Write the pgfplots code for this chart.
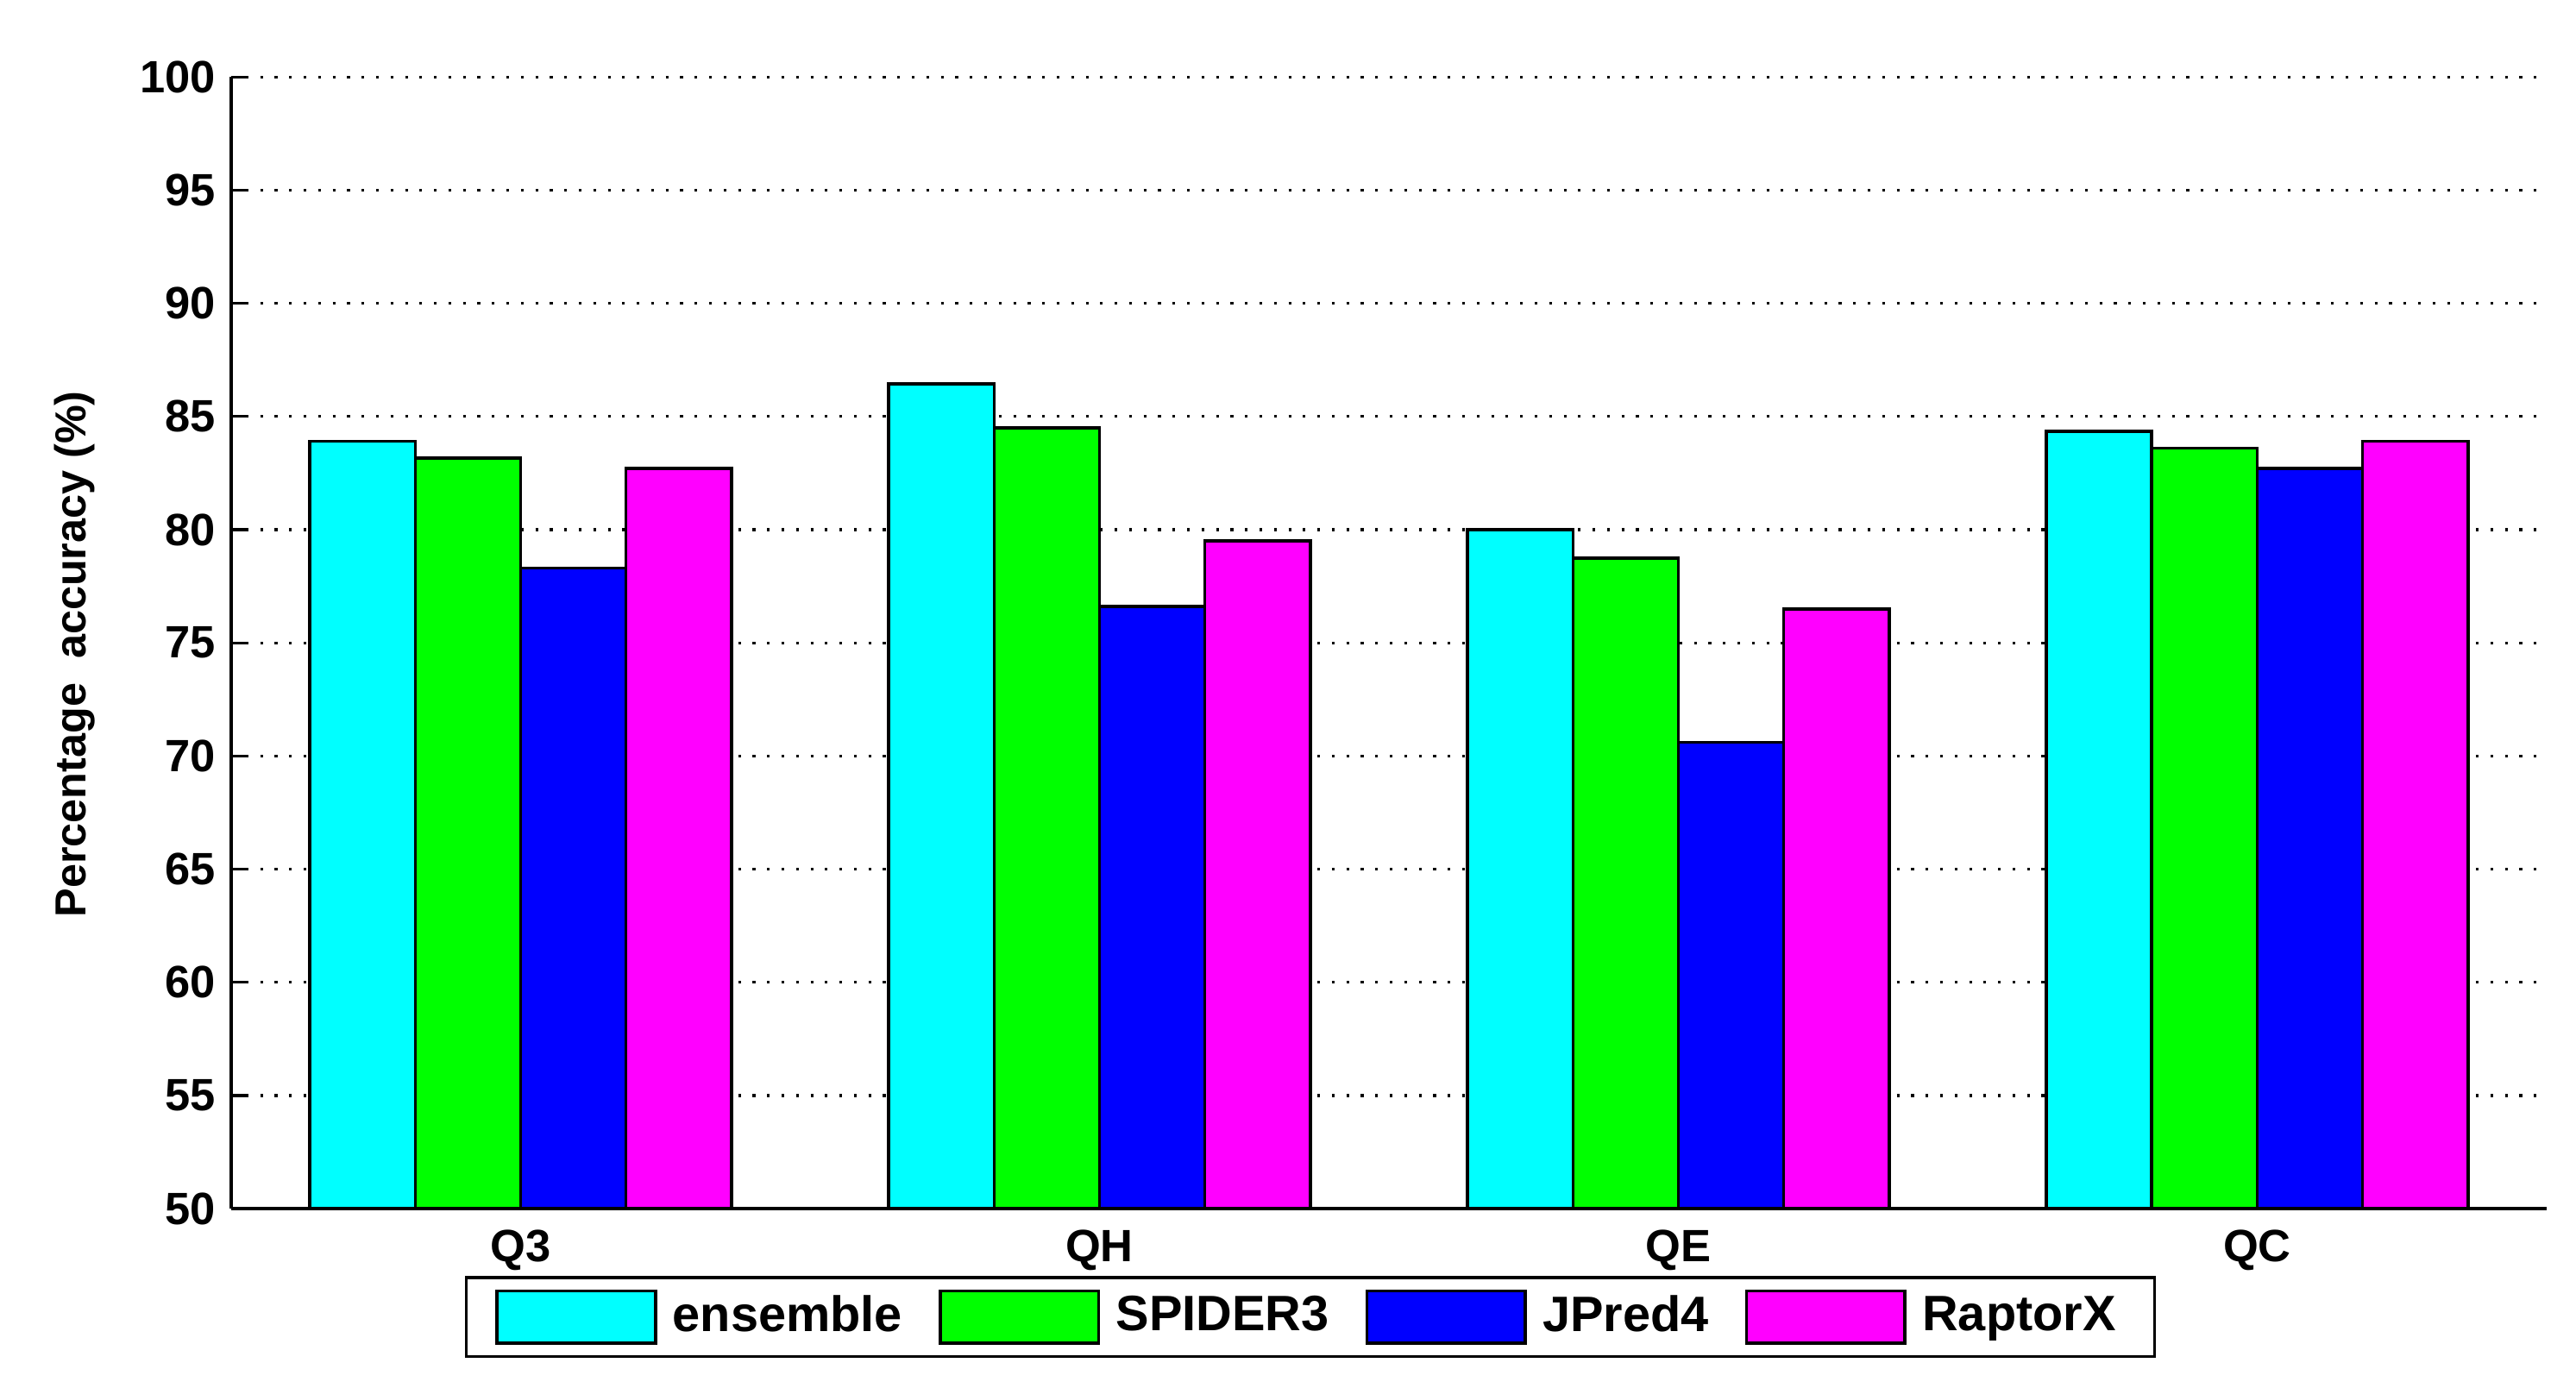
\documentclass[border=0pt]{standalone}
\usepackage{pgfplots}
\pgfplotsset{compat=1.18}
\usepackage{fontspec}
\setmainfont{Liberation Sans}
\setsansfont{Liberation Sans}
\definecolor{cE}{RGB}{0,255,255}
\definecolor{cS}{RGB}{0,255,0}
\definecolor{cJ}{RGB}{0,0,255}
\definecolor{cR}{RGB}{255,0,255}
\pgfplotsset{boxlegend/.style={legend image code/.code={\draw[##1, line width=0.7pt] (0pt,-5.8pt) rectangle (35pt,5.8pt);}}}
\begin{document}
\begin{tikzpicture}
\begin{axis}[
  at={(0pt,0pt)}, anchor=south west,
  scale only axis, width=511.6pt, height=250.1pt,
  xmin=-0.5, xmax=3.5, ymin=50, ymax=100,
  ytick={50,55,...,100},
  xtick={0,1,2,3}, xticklabels={Q3,QH,QE,QC},
  axis x line*=bottom, axis y line*=left,
  axis line style={line width=0.75pt, -},
  ybar=0pt, bar width=0.182,
  ymajorgrids,
  grid style={black, line width=0.6pt, dash pattern=on 0.6pt off 2.6pt},
  major tick length=3.6pt,
  y tick style={black, line width=0.6pt},
  x tick style={draw=none},
  tick label style={font=\bfseries\fontsize{10}{12}\selectfont},
  xticklabel style={yshift=2.5pt},
  /pgf/number format/assume math mode=true,
  ylabel={Percentage\ \ accuracy (\%)},
  ylabel style={font=\bfseries\fontsize{9.6}{12}\selectfont, at={(axis description cs:-0.0678,0.49)}, anchor=center},
  legend style={at={(0.466,-0.0596)}, anchor=north, legend columns=4, draw=black, line width=0.6pt,
    font=\bfseries\fontsize{11}{13}\selectfont, inner xsep=6.5pt, inner ysep=2pt,
    /tikz/every even column/.append style={column sep=6pt},
    /tikz/every odd column/.append style={column sep=1.5pt}},
]
\addplot[fill=cE, draw=black, line width=0.7pt, boxlegend] coordinates {(0,83.9) (1,86.45) (2,80.0) (3,84.35)};
\addplot[fill=cS, draw=black, line width=0.7pt, boxlegend] coordinates {(0,83.15) (1,84.5) (2,78.75) (3,83.6)};
\addplot[fill=cJ, draw=black, line width=0.7pt, boxlegend] coordinates {(0,78.3) (1,76.6) (2,70.6) (3,82.7)};
\addplot[fill=cR, draw=black, line width=0.7pt, boxlegend] coordinates {(0,82.7) (1,79.5) (2,76.5) (3,83.9)};
\legend{ensemble, SPIDER3, JPred4, RaptorX}
\end{axis}
\pgfresetboundingbox
\path (-51.1pt,-39.5pt) rectangle (518.1pt,267.1pt);
\end{tikzpicture}
\end{document}
